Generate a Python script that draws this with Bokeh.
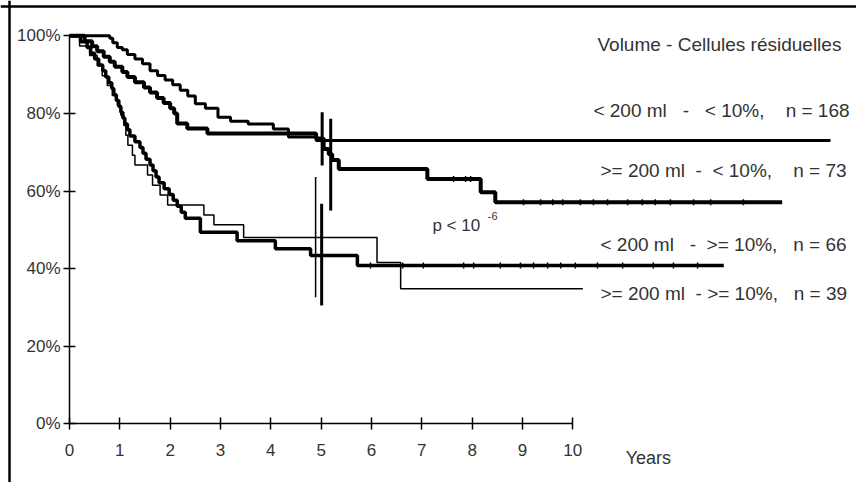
import math
from bokeh.plotting import figure
from bokeh.models import Range1d, LinearAxis, FixedTicker, Label, Span
from bokeh.embed import file_html
from bokeh.resources import INLINE

# ---------------- data ----------------
x_ticks = [0, 1, 2, 3, 4, 5, 6, 7, 8, 9, 10]
y_ticks = [0, 20, 40, 60, 80, 100]
y_tick_labels = ["0%", "20%", "40%", "60%", "80%", "100%"]

# < 200 ml - < 10 %, n = 168
a_t = [0, 0.80, 0.86, 0.95, 1.05, 1.15, 1.30, 1.45, 1.60, 1.75, 1.90, 2.05, 2.20,
       2.35, 2.50, 2.70, 2.95, 3.20, 3.55, 4.05, 4.35, 4.90, 15.12]
a_s = [100, 99.4, 98.2, 97.0, 96.4, 95.2, 94.0, 92.8, 91.0, 89.8, 88.6, 87.4, 86.0,
       84.5, 82.5, 81.3, 79.0, 78.0, 77.3, 76.0, 73.9, 73.0, 73.0]

# >= 200 ml - < 10 %, n = 73
b_t = [0, 0.30, 0.45, 0.55, 0.68, 0.80, 0.90, 1.05, 1.15, 1.30, 1.48, 1.60, 1.74,
       1.87, 2.00, 2.08, 2.14, 2.34, 2.74, 4.90, 5.05, 5.15, 5.22, 5.35, 7.11, 8.17,
       8.46, 14.16]
b_s = [100, 98.6, 97.3, 96.0, 94.6, 93.3, 92.0, 90.7, 89.4, 88.0, 86.7, 85.4, 84.0,
       82.7, 81.3, 80.0, 77.4, 76.1, 74.8, 73.5, 70.8, 69.5, 68.0, 65.7, 63.1, 59.7,
       57.1, 57.1]
b_cens = [7.63, 7.87, 7.97, 9.02, 9.36, 9.60, 9.80, 10.15, 10.41, 10.69, 11.09,
          11.38, 11.64, 11.94, 12.40, 12.74, 13.39]

# < 200 ml - >= 10 %, n = 66
c_t = [0, 0.22, 0.35, 0.42, 0.50, 0.58, 0.66, 0.72, 0.78, 0.84, 0.88, 0.93, 0.98,
       1.02, 1.06, 1.10, 1.15, 1.20, 1.30, 1.40, 1.46, 1.52, 1.60, 1.66, 1.72, 1.78,
       1.88, 1.98, 2.06, 2.14, 2.22, 2.30, 2.60, 3.33, 4.09, 4.79, 5.72, 13.0]
c_s = [100, 98.5, 97.0, 95.5, 94.0, 92.5, 91.0, 89.4, 87.9, 86.4, 84.8, 83.3, 81.8,
       80.3, 78.8, 77.3, 75.8, 74.2, 72.7, 71.2, 69.7, 68.2, 66.7, 65.2, 63.6, 62.1,
       60.6, 59.1, 57.6, 56.1, 54.5, 53.0, 49.4, 47.2, 45.1, 43.4, 40.8, 40.8]
c_cens = [5.98, 6.62, 7.03, 7.83, 8.03, 8.56, 8.96, 9.22, 9.50, 9.76, 10.05, 10.49,
          10.99, 11.60, 12.00, 12.48]

# >= 200 ml - >= 10 %, n = 39
d_t = [0, 0.20, 0.40, 0.55, 0.65, 0.75, 0.85, 0.95, 1.02, 1.08, 1.12, 1.16, 1.25,
       1.30, 1.55, 1.65, 1.80, 1.95, 2.67, 2.87, 3.46, 6.11, 6.58, 10.2]
d_s = [100, 97.4, 94.9, 92.3, 89.7, 87.2, 84.6, 82.1, 79.5, 76.9, 74.4, 71.8, 69.2,
       66.7, 64.1, 61.5, 59.0, 56.4, 53.8, 51.3, 48.0, 41.6, 34.8, 34.8]

# 5-year confidence intervals
ci_x = [5.02, 5.19, 4.89, 5.01]
ci_lo = [66.6, 55.0, 32.6, 30.5]
ci_hi = [80.3, 78.6, 63.6, 56.7]

legend_title = "Volume - Cellules résiduelles"
group_labels = ["< 200 ml   -   < 10%,    n = 168",
                ">= 200 ml  -  < 10%,    n = 73",
                "< 200 ml   -  >= 10%,   n = 66",
                ">= 200 ml  - >= 10%,   n = 39"]
x_title = "Years"

# ---------------- figure ----------------
FONT = "Liberation Sans"
TXT = "#333333"

p = figure(width=856, height=482, output_backend="svg", toolbar_location=None,
           x_range=Range1d(-1.371, 15.637), y_range=Range1d(-15.13, 109.10),
           x_axis_location=None, y_axis_location=None, min_border=0)
p.outline_line_color = None
p.background_fill_color = "white"
p.border_fill_color = "white"
p.xgrid.visible = False
p.ygrid.visible = False

xax = LinearAxis(fixed_location=0, bounds=(0, 10), ticker=FixedTicker(ticks=x_ticks))
yax = LinearAxis(fixed_location=0, bounds=(0, 100), ticker=FixedTicker(ticks=y_ticks))
yax.major_label_overrides = {v: l for v, l in zip(y_ticks, y_tick_labels)}
for ax in (xax, yax):
    ax.axis_line_width = 1.5
    ax.axis_line_color = "black"
    ax.major_tick_line_width = 1.5
    ax.major_tick_line_color = "black"
    ax.major_tick_in = 6
    ax.major_tick_out = 6
    ax.minor_tick_line_color = None
    ax.major_label_text_font = FONT
    ax.major_label_text_font_size = "17px"
    ax.major_label_text_color = TXT
xax.major_label_standoff = 14
yax.major_label_standoff = 3
p.add_layout(xax, "below")
p.add_layout(yax, "left")

# frame lines (top and left)
p.add_layout(Span(location=107.55, dimension="width", line_color="black", line_width=2.5))
p.add_layout(Span(location=-1.192, dimension="height", line_color="black", line_width=2.5))

# curves
p.step(a_t, a_s, mode="after", line_color="black", line_width=3)
p.step(b_t, b_s, mode="after", line_color="black", line_width=4)
p.step(c_t, c_s, mode="after", line_color="black", line_width=3.5)
p.step(d_t, d_s, mode="after", line_color="black", line_width=1.5)

# censor marks
p.scatter(b_cens, [57.1 if t > 8.46 else (59.7 if t > 8.17 else 63.1) for t in b_cens],
          marker="dash", angle=math.pi / 2, size=6, line_color="black", line_width=1.5)
p.scatter(c_cens, [40.8] * len(c_cens),
          marker="dash", angle=math.pi / 2, size=6, line_color="black", line_width=1.5)

# confidence intervals at 5 years
p.segment(ci_x[:2], ci_lo[:2], ci_x[:2], ci_hi[:2], line_color="black", line_width=3)
p.segment([ci_x[2]], [ci_lo[2]], [ci_x[2]], [ci_hi[2]], line_color="black", line_width=1.5)
p.segment([ci_x[3]], [ci_lo[3]], [ci_x[3]], [ci_hi[3]], line_color="black", line_width=3)

# texts
def lab(x, y, text, size="19px"):
    p.add_layout(Label(x=x, y=y, text=text.replace(" ", "\u00a0"), text_font=FONT,
                       text_font_size=size, text_color=TXT, text_baseline="middle",
                       text_align="left"))

lab(10.49, 97.8, legend_title)
lab(10.41, 80.8, group_labels[0])
lab(10.55, 65.3, group_labels[1])
lab(10.55, 46.2, group_labels[2])
lab(10.55, 33.6, group_labels[3])
lab(11.05, -8.7, x_title, "18px")
lab(7.21, 51.1, "p < 10", "17px")
lab(8.31, 53.6, "-6", "11px")

open("out.html", "w").write(file_html(p, INLINE))
